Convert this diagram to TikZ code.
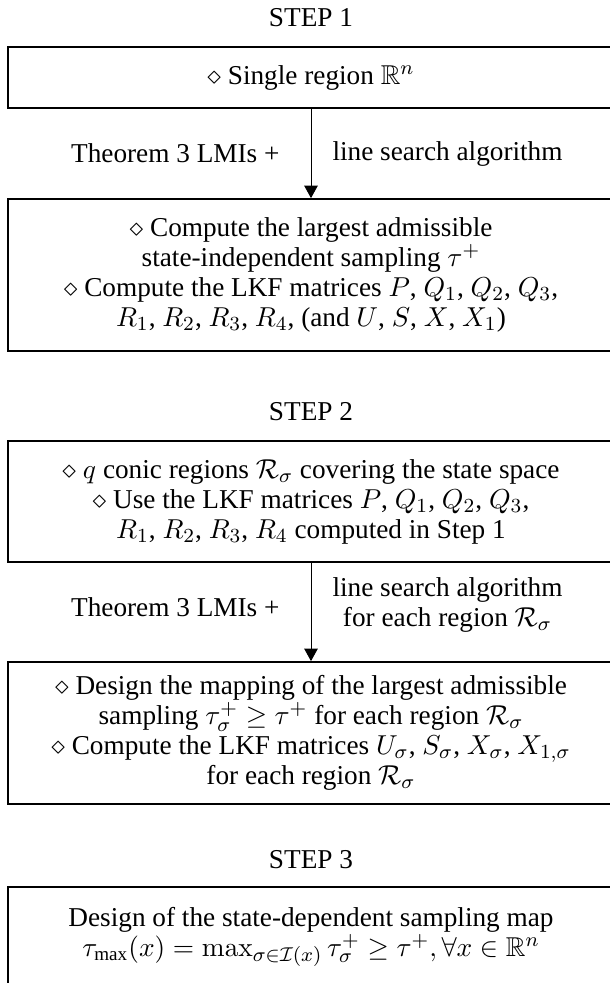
\documentclass[tikz,border=0pt]{standalone}
\usepackage{amsmath, amssymb}
\usepackage[no-math]{fontspec}
\setmainfont{Liberation Serif}
\usetikzlibrary{arrows.meta}

\tikzset{
	stepbox/.style = {draw, line width = 0.7pt, minimum width = 242.4pt, align = center, inner xsep = 4pt},
	steptitle/.style = {inner sep = 0pt},
	flow/.style = {line width = 0.4pt, -{Triangle[length = 5pt, width = 5.4pt]}},
	flowlabel/.style = {inner sep = 0pt, align = center}
}

\begin{document}
\begin{tikzpicture}[x = 0.4pt, y = -0.4pt, font = \fontsize{10.9}{12}\selectfont]
	\useasboundingbox (0, 0) rectangle (609, 983);
	\node[steptitle] (t1) at (311, 18) {STEP 1};
	\node[stepbox, minimum height = 24.4pt] (b1) at (311, 77.5) {$\diamond$ Single region $\mathbb{R}^n$};
	\node[stepbox, minimum height = 60.8pt] (b2) at (311, 275) {$\diamond$ Compute the largest admissible\\ state-independent sampling $\tau^+$\\ $\diamond$ Compute the LKF matrices $P$, $Q_1$, $Q_2$, $Q_3$,\\ $R_1$, $R_2$, $R_3$, $R_4$, (and $U$, $S$, $X$, $X_1$)};
	\draw[flow] (b1) -- (b2)
		node[flowlabel, midway, left = 12.4pt] {Theorem 3 LMIs +}
		node[flowlabel, midway, right = 8.4pt] {line search algorithm};

	\node[steptitle] (t2) at (311, 412) {STEP 2};
	\node[stepbox, minimum height = 48.4pt] (b3) at (311, 501.5) {$\diamond$ $q$ conic regions $\mathcal{R}_\sigma$ covering the state space\\ $\diamond$ Use the LKF matrices $P$, $Q_1$, $Q_2$, $Q_3$,\\ $R_1$, $R_2$, $R_3$, $R_4$ computed in Step 1};
	\node[stepbox, minimum height = 56.8pt] (b4) at (311, 733) {$\diamond$ Design the mapping of the largest admissible\\ sampling $\tau_\sigma^+ \geq \tau^+$ for each region $\mathcal{R}_\sigma$\\ $\diamond$ Compute the LKF matrices $U_\sigma$, $S_\sigma$, $X_\sigma$, $X_{1,\sigma}$\\ for each region $\mathcal{R}_\sigma$};
	\draw[flow] (b3) -- (b4)
		node[flowlabel, midway, left = 12.4pt, yshift = 2pt] {Theorem 3 LMIs +}
		node[flowlabel, midway, right = 8.4pt, yshift = 2.8pt] {line search algorithm\\ for each region $\mathcal{R}_\sigma$};

	\node[steptitle] (t3) at (311, 860) {STEP 3};
	\node[stepbox, anchor = north, inner ysep = 8pt, text depth = 20pt] (b5) at (311, 886) {Design of the state-dependent sampling map\\ $\tau_{\text{max}}(x) = \max_{\sigma \in \mathcal{I}(x)} \tau_\sigma^+ \geq \tau^+, \forall x \in \mathbb{R}^n$};
\end{tikzpicture}
\end{document}
